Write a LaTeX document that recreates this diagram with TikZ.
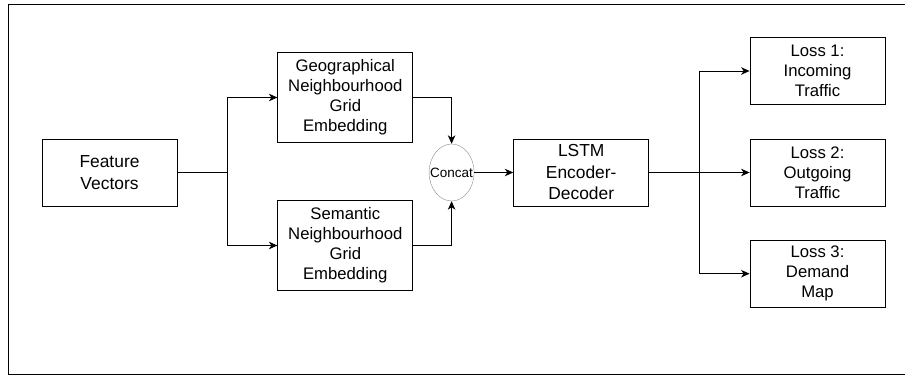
\documentclass[tikz,border=0pt]{standalone}
\usepackage{fontspec}
\setmainfont{Liberation Sans}
\usepackage{tikz}
\usetikzlibrary{arrows.meta,positioning,shapes.geometric}

\begin{document}
\begin{tikzpicture}[
  x=1pt, y=1pt,
  block/.style={draw, thick, align=center, font=\fontsize{16.7}{20}\selectfont,
                minimum width=135pt, minimum height=67pt, inner sep=2pt},
  bigblock/.style={block, font=\fontsize{17.4}{21.5}\selectfont},
  embed/.style={block, minimum height=90pt},
  concatnode/.style={draw=gray!90, ellipse, minimum width=45pt, minimum height=57pt,
                     inner sep=0pt, font=\fontsize{13.5}{15}\selectfont},
  arr/.style={-{Stealth[length=8.5pt, width=7.5pt, inset=2.5pt]}, line width=0.9pt}]
  \useasboundingbox (0,0) rectangle (905,375);
  \draw[line width=1pt] (910,370.5) -- (8,370.5) -- (8,1) -- (910,1);
  \node[bigblock] (feat) at (109.5,202.5) {Feature\\ Vectors};
  \node[embed, right=100pt of feat, yshift=75pt] (geo) {Geographical\\ Neighbourhood\\ Grid\\ Embedding};
  \node[embed, right=100pt of feat, yshift=-73pt] (sem) {Semantic\\ Neighbourhood\\ Grid\\ Embedding};
  \node[concatnode, right=251.5pt of feat] (cat) {\makebox[0pt]{Concat}};
  \node[bigblock, right=39pt of cat] (lstm) {LSTM\\ Encoder-\\ Decoder};
  \node[block, right=100.5pt of lstm] (loss2) {Loss 2:\\ Outgoing\\ Traffic};
  \node[block, above=33.7pt of loss2] (loss1) {Loss 1:\\ Incoming\\ Traffic};
  \node[block, below=33.4pt of loss2] (loss3) {Loss 3:\\ Demand\\ Map};
  \draw[arr] (feat.east) -- ++(50pt,0) |- (geo.west);
  \draw[arr] (feat.east) -- ++(50pt,0) |- (sem.west);
  \draw[arr] (geo.east) -| (cat.north);
  \draw[arr] (sem.east) -| (cat.south);
  \draw[arr] (cat) -- (lstm);
  \draw[arr] (lstm.east) -- ++(50pt,0) |- (loss1.west);
  \draw[arr] (lstm) -- (loss2);
  \draw[arr] (lstm.east) -- ++(50pt,0) |- (loss3.west);
\end{tikzpicture}
\end{document}
